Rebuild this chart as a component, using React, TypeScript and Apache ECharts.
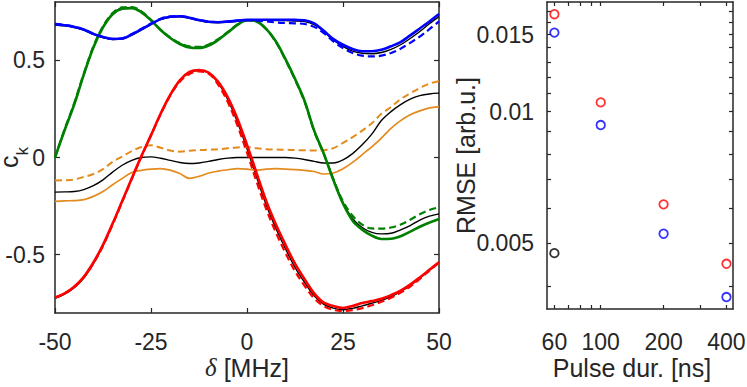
import React, { useEffect, useRef } from "react";
import * as echarts from "echarts";

// ---- left panel: detuning grid (MHz) ----
const delta = [-50, -47.5, -45, -42.5, -40, -37.5, -35, -32.5, -30, -27.5, -25, -22.5, -20, -17.5, -15, -12.5, -10, -7.5, -5, -2.5, 0, 2.5, 5, 7.5, 10, 12.5, 15, 17.5, 20, 22.5, 25, 27.5, 30, 32.5, 35, 37.5, 40, 42.5, 45, 47.5, 50];

const blueSolid = [0.685, 0.680, 0.672, 0.659, 0.636, 0.620, 0.610, 0.612, 0.633, 0.659, 0.687, 0.712, 0.724, 0.727, 0.719, 0.707, 0.698, 0.696, 0.699, 0.704, 0.708, 0.709, 0.709, 0.709, 0.709, 0.708, 0.706, 0.690, 0.652, 0.609, 0.580, 0.558, 0.547, 0.547, 0.554, 0.572, 0.594, 0.628, 0.664, 0.700, 0.738];
const blueDashed = [0.687, 0.682, 0.673, 0.658, 0.636, 0.619, 0.610, 0.613, 0.635, 0.662, 0.690, 0.714, 0.726, 0.728, 0.720, 0.708, 0.700, 0.697, 0.700, 0.704, 0.706, 0.704, 0.700, 0.695, 0.692, 0.690, 0.687, 0.672, 0.640, 0.597, 0.563, 0.538, 0.524, 0.520, 0.524, 0.538, 0.560, 0.590, 0.622, 0.660, 0.700];
const blueBlack = [0.682, 0.677, 0.669, 0.656, 0.633, 0.617, 0.607, 0.609, 0.630, 0.656, 0.684, 0.709, 0.721, 0.724, 0.716, 0.704, 0.695, 0.693, 0.696, 0.701, 0.705, 0.706, 0.706, 0.705, 0.704, 0.702, 0.699, 0.683, 0.648, 0.603, 0.572, 0.547, 0.536, 0.534, 0.540, 0.556, 0.580, 0.612, 0.648, 0.688, 0.725];

const greenSolid = [0.000, 0.140, 0.272, 0.426, 0.566, 0.669, 0.737, 0.765, 0.768, 0.747, 0.706, 0.656, 0.615, 0.584, 0.566, 0.563, 0.576, 0.605, 0.643, 0.682, 0.706, 0.700, 0.662, 0.598, 0.507, 0.405, 0.291, 0.138, 0.020, -0.116, -0.237, -0.325, -0.371, -0.402, -0.419, -0.418, -0.405, -0.381, -0.356, -0.335, -0.316];
const greenDashed = [0.000, 0.145, 0.280, 0.432, 0.572, 0.675, 0.743, 0.772, 0.774, 0.752, 0.708, 0.658, 0.618, 0.589, 0.572, 0.569, 0.581, 0.609, 0.646, 0.684, 0.707, 0.700, 0.660, 0.594, 0.502, 0.400, 0.286, 0.134, 0.018, -0.112, -0.225, -0.300, -0.345, -0.365, -0.366, -0.360, -0.345, -0.320, -0.292, -0.270, -0.256];
const greenBlack = [0.000, 0.142, 0.276, 0.429, 0.569, 0.672, 0.740, 0.769, 0.772, 0.750, 0.707, 0.657, 0.616, 0.586, 0.568, 0.565, 0.578, 0.607, 0.644, 0.683, 0.707, 0.701, 0.662, 0.597, 0.505, 0.403, 0.289, 0.136, 0.019, -0.115, -0.232, -0.315, -0.360, -0.385, -0.393, -0.390, -0.372, -0.350, -0.322, -0.302, -0.290];

const redSolid = [-0.721, -0.699, -0.665, -0.614, -0.540, -0.449, -0.340, -0.224, -0.107, 0.007, 0.115, 0.225, 0.322, 0.397, 0.440, 0.450, 0.437, 0.390, 0.310, 0.200, 0.065, -0.080, -0.223, -0.343, -0.448, -0.546, -0.626, -0.699, -0.747, -0.764, -0.774, -0.764, -0.749, -0.739, -0.727, -0.708, -0.685, -0.654, -0.617, -0.578, -0.539];
const redDashed = [-0.721, -0.700, -0.667, -0.617, -0.545, -0.455, -0.345, -0.228, -0.110, 0.005, 0.113, 0.222, 0.318, 0.390, 0.430, 0.443, 0.432, 0.375, 0.285, 0.165, 0.025, -0.125, -0.265, -0.385, -0.490, -0.585, -0.660, -0.725, -0.765, -0.784, -0.790, -0.785, -0.775, -0.760, -0.742, -0.722, -0.695, -0.664, -0.625, -0.582, -0.540];
const redBlack = [-0.724, -0.703, -0.670, -0.620, -0.546, -0.455, -0.343, -0.226, -0.108, 0.006, 0.114, 0.224, 0.320, 0.394, 0.436, 0.447, 0.435, 0.383, 0.298, 0.183, 0.045, -0.102, -0.244, -0.364, -0.469, -0.565, -0.643, -0.712, -0.756, -0.775, -0.783, -0.776, -0.763, -0.750, -0.735, -0.716, -0.690, -0.659, -0.621, -0.580, -0.539];

const orangeSolid = [-0.226, -0.223, -0.222, -0.217, -0.200, -0.175, -0.140, -0.108, -0.077, -0.066, -0.060, -0.057, -0.065, -0.082, -0.107, -0.097, -0.080, -0.070, -0.063, -0.057, -0.060, -0.066, -0.060, -0.057, -0.060, -0.062, -0.066, -0.072, -0.085, -0.080, -0.058, -0.025, 0.015, 0.055, 0.100, 0.150, 0.190, 0.220, 0.240, 0.255, 0.262];
const orangeDashed = [-0.118, -0.117, -0.113, -0.100, -0.085, -0.060, -0.022, 0.005, 0.033, 0.054, 0.063, 0.050, 0.036, 0.030, 0.035, 0.038, 0.040, 0.042, 0.048, 0.052, 0.053, 0.047, 0.043, 0.041, 0.040, 0.038, 0.037, 0.036, 0.037, 0.048, 0.075, 0.105, 0.138, 0.176, 0.225, 0.260, 0.300, 0.330, 0.358, 0.380, 0.392];
const orangeBlack = [-0.178, -0.177, -0.175, -0.165, -0.145, -0.115, -0.075, -0.040, -0.015, 0.000, 0.003, -0.004, -0.015, -0.026, -0.031, -0.028, -0.020, -0.010, -0.003, 0.000, 0.000, 0.000, 0.000, 0.000, 0.000, -0.003, -0.010, -0.020, -0.028, -0.028, -0.012, 0.020, 0.065, 0.120, 0.190, 0.236, 0.272, 0.300, 0.318, 0.327, 0.331];

const ckTicks = [-0.5, 0, 0.5];

// ---- right panel: RMSE vs pulse duration (log-log) ----
const pulseDur = [60, 100, 200, 400];
const rmseRed = [0.0167, 0.0105, 0.00614, 0.00449];
const rmseBlue = [0.01516, 0.00932, 0.00526, 0.00377];
const blackDur = [60];
const rmseBlack = [0.00475];
const pulseTickLabels = [60, 100, 200, 400];
const pulseTicks = [60, 70, 80, 90, 100, 200, 300, 400];
const rmseTickLabels = [0.005, 0.01, 0.015];
const rmseTicks = [0.004, 0.005, 0.006, 0.007, 0.008, 0.009, 0.01, 0.011, 0.012, 0.013, 0.014, 0.015, 0.016, 0.017];

const AX = "#262626";
const FONT = "'Liberation Sans', Arial, Helvetica, sans-serif";
const BLUE = "#0000ff";
const GREEN = "#008000";
const RED = "#ff0000";
const ORANGE = "#e38b1d";
const BLACK = "#000000";

const pairs = (xs: number[], ys: number[]) => xs.map((x, i) => [x, ys[i]]);
const logPairs = (xs: number[], ys: number[]) => xs.map((x, i) => [Math.log(x), Math.log(ys[i])]);

function lineSeries(ys: number[], color: string, width: number, dashed: boolean) {
  return {
    type: "line",
    xAxisIndex: 0,
    yAxisIndex: 0,
    data: pairs(delta, ys),
    showSymbol: false,
    symbol: "none",
    smooth: 0.35,
    silent: true,
    lineStyle: { color, width, type: dashed ? [7, 4] : "solid" },
  };
}

function scatterSeries(xs: number[], ys: number[], color: string) {
  return {
    type: "scatter",
    xAxisIndex: 2,
    yAxisIndex: 2,
    data: logPairs(xs, ys),
    symbol: "circle",
    symbolSize: 8.5,
    silent: true,
    itemStyle: { color: "rgba(0,0,0,0)", borderColor: color, borderWidth: 1.8 },
  };
}

const axisLine = { onZero: false, lineStyle: { color: AX, width: 1.5 } };
const tickStyle = { color: AX, width: 1.2 };
const labelBase = { fontSize: 23, color: AX, fontFamily: FONT };
const nameBase = { fontSize: 25, color: AX, fontFamily: FONT };

export default function App() {
  const ref = useRef<HTMLDivElement>(null);
  useEffect(() => {
    if (!ref.current) return;
    const chart = echarts.init(ref.current, undefined, { renderer: "svg" });
    const lnTicks = pulseTicks.map(Math.log);
    const lnTickLabels = pulseTickLabels.map(Math.log);
    const lnR = rmseTicks.map(Math.log);
    const lnRL = rmseTickLabels.map(Math.log);
    chart.setOption({
      animation: false,
      backgroundColor: "#ffffff",
      grid: [
        { left: 55, top: 2, width: 384, height: 311, containLabel: false, outerBoundsMode: "none" },
        { left: 547, top: 2, width: 186, height: 307, containLabel: false, outerBoundsMode: "none" },
      ],
      xAxis: [
        {
          gridIndex: 0, type: "value", position: "bottom", min: -50, max: 50, interval: 25,
          axisLine, axisTick: { inside: true, length: 5, lineStyle: tickStyle },
          axisLabel: { ...labelBase, margin: 17 }, splitLine: { show: false },
          name: "{d|δ} [MHz]", nameLocation: "middle", nameGap: 42, nameMoveOverlap: false,
          nameTextStyle: { ...nameBase, rich: { d: { fontSize: 25, fontStyle: "italic", fontFamily: "'Liberation Serif', serif", color: AX } } },
        },
        {
          gridIndex: 0, type: "value", position: "top", min: -50, max: 50, interval: 25,
          axisLine, axisTick: { inside: true, length: 5, lineStyle: tickStyle },
          axisLabel: { show: false }, splitLine: { show: false },
        },
        {
          gridIndex: 1, type: "value", position: "bottom", min: Math.log(55.3), max: Math.log(430),
          axisLine, axisTick: { inside: true, length: 4, customValues: lnTicks, lineStyle: tickStyle },
          axisLabel: { ...labelBase, margin: 21, customValues: lnTickLabels, formatter: (v: number) => String(Math.round(Math.exp(v))) },
          splitLine: { show: false },
          name: "Pulse dur. [ns]", nameLocation: "middle", nameGap: 46, nameMoveOverlap: false,
          nameTextStyle: { ...nameBase, padding: [0, 16, 0, 0] },
        },
        {
          gridIndex: 1, type: "value", position: "top", min: Math.log(55.3), max: Math.log(430),
          axisLine, axisTick: { inside: true, length: 4, customValues: lnTicks, lineStyle: tickStyle },
          axisLabel: { show: false }, splitLine: { show: false },
        },
      ],
      yAxis: [
        {
          gridIndex: 0, type: "value", position: "left", min: -0.8, max: 0.8,
          axisLine, axisTick: { inside: true, length: 5, customValues: ckTicks, lineStyle: tickStyle },
          axisLabel: { ...labelBase, margin: 10, customValues: ckTicks }, splitLine: { show: false },
          name: "{c|c}{k|k}", nameLocation: "middle", nameRotate: 90, nameGap: 24, nameMoveOverlap: false,
          nameTextStyle: {
            ...nameBase,
            rich: {
              c: { fontSize: 25, lineHeight: 44, fontFamily: FONT, color: AX },
              k: { fontSize: 17, lineHeight: 44, verticalAlign: "bottom", fontFamily: FONT, color: AX },
            },
          },
        },
        {
          gridIndex: 0, type: "value", position: "right", min: -0.8, max: 0.8,
          axisLine, axisTick: { inside: true, length: 5, customValues: ckTicks, lineStyle: tickStyle },
          axisLabel: { show: false }, splitLine: { show: false },
        },
        {
          gridIndex: 1, type: "value", position: "left", min: Math.log(0.00354), max: Math.log(0.01781),
          axisLine, axisTick: { inside: true, length: 4, customValues: lnR, lineStyle: tickStyle },
          axisLabel: { ...labelBase, margin: 13, customValues: lnRL, formatter: (v: number) => String(parseFloat(Math.exp(v).toFixed(4))) },
          splitLine: { show: false },
          name: "RMSE [arb.u.]", nameLocation: "middle", nameRotate: 90, nameGap: 69, nameMoveOverlap: false,
          nameTextStyle: { ...nameBase },
        },
        {
          gridIndex: 1, type: "value", position: "right", min: Math.log(0.00354), max: Math.log(0.01781),
          axisLine, axisTick: { inside: true, length: 4, customValues: lnR, lineStyle: tickStyle },
          axisLabel: { show: false }, splitLine: { show: false },
        },
      ],
      series: [
        lineSeries(orangeBlack, BLACK, 1.4, false),
        lineSeries(redBlack, BLACK, 1.4, false),
        lineSeries(greenBlack, BLACK, 1.4, false),
        lineSeries(blueBlack, BLACK, 1.4, false),
        lineSeries(orangeSolid, ORANGE, 1.7, false),
        lineSeries(orangeDashed, ORANGE, 2, true),
        lineSeries(redSolid, RED, 2.6, false),
        lineSeries(redDashed, RED, 2.2, true),
        lineSeries(greenSolid, GREEN, 2.6, false),
        lineSeries(greenDashed, GREEN, 2.2, true),
        lineSeries(blueSolid, BLUE, 2.6, false),
        lineSeries(blueDashed, BLUE, 2.2, true),
        scatterSeries(pulseDur, rmseRed, RED),
        scatterSeries(pulseDur, rmseBlue, BLUE),
        scatterSeries(blackDur, rmseBlack, BLACK),
      ],
    });
    return () => chart.dispose();
  }, []);
  return <div ref={ref} style={{ position: "fixed", left: 0, top: 0, width: 747, height: 387 }} />;
}
